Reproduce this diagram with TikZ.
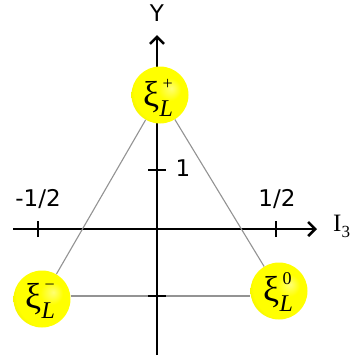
\documentclass[tikz,border=0pt]{standalone}
\usepackage{fontspec}
\setsansfont{DejaVu Sans}
\newfontfamily\grk{Liberation Serif}
\usetikzlibrary{arrows.meta}
\pgfdeclareradialshading{ballsh}{\pgfpoint{10bp}{6bp}}{%
  color(0bp)=(yellow!55!white); color(10bp)=(yellow); color(28bp)=(yellow);
  color(36bp)=(yellow!90!black); color(45bp)=(yellow!70!black); color(50bp)=(yellow!58!black); color(60bp)=(yellow!58!black)}
\newcommand{\xiL}[1]{{\grk\fontsize{36}{36}\selectfont ξ}\hspace{0.5pt}%
  \rlap{\hspace{3pt}\raisebox{17pt}{\grk\fontsize{18}{18}\selectfont #1}}%
  \raisebox{-10pt}{\grk\itshape\fontsize{24}{24}\selectfont L}}
\begin{document}
\begin{tikzpicture}[x=1pt,y=-1pt,
  axis/.style={line width=2.8pt,-{Straight Barb[length=7pt,width=14pt,line width=2.6pt]}},
  tickmark/.style={line width=2.8pt},
  edge/.style={draw=gray!85,line width=1.1pt},
  ball/.style={circle,minimum size=57pt,inner sep=0pt,shading=ballsh,draw=none},
  lbl/.style={font=\sffamily\fontsize{23}{23}\selectfont,inner sep=0pt},
  part/.style={inner sep=0pt}]
\useasboundingbox (0,0) rectangle (351,357);
\fill[white] (0,0) rectangle (351,357);
% axes
\coordinate (yb) at (157,355);
\coordinate (yt) at (157,35);
\coordinate (xl) at (13,229);
\coordinate (xr) at (317,229);
\draw[axis] (yb) -- (yt);
\draw[axis] (xl) -- (xr);
\node[lbl] (ylab) at (157,13) {Y};
\node[lbl,font=\grk\fontsize{25}{25}\selectfont,anchor=west] (xlab) at (333,226) {I\raisebox{-6pt}{\fontsize{17}{17}\selectfont 3}};
% ticks
\coordinate (tm) at (38,229);
\coordinate (tp) at (276,229);
\coordinate (t1) at (157,170);
\coordinate (t0) at (157,296);
\draw[tickmark] ([yshift=-8]tm) -- ([yshift=8]tm);
\draw[tickmark] ([yshift=-8]tp) -- ([yshift=8]tp);
\draw[tickmark] ([xshift=-9]t1) -- ([xshift=9]t1);
\node[lbl] (lm) at (38,199) {-1/2};
\node[lbl] (lp) at (277,199) {1/2};
\node[lbl] (l1) at (183,168) {1};
% particles
\node[ball] (xp) at (160,95) {};
\node[ball] (xm) at (42,299) {};
\node[ball] (x0) at (279,291) {};
\draw[edge] (xp) -- (xm);
\draw[edge] (xp) -- (x0);
\draw[edge] (xm.east |- t0) -- (x0.west |- t0);
\draw[tickmark] ([xshift=-9]t0) -- ([xshift=9]t0);
\node[part] (lp1) at (158,98) {\xiL{+}};
\node[part] (lm1) at (40,301) {\xiL{\raisebox{1pt}{−}}};
\node[part] (l01) at (278,292) {\xiL{0}};
\end{tikzpicture}
\end{document}
